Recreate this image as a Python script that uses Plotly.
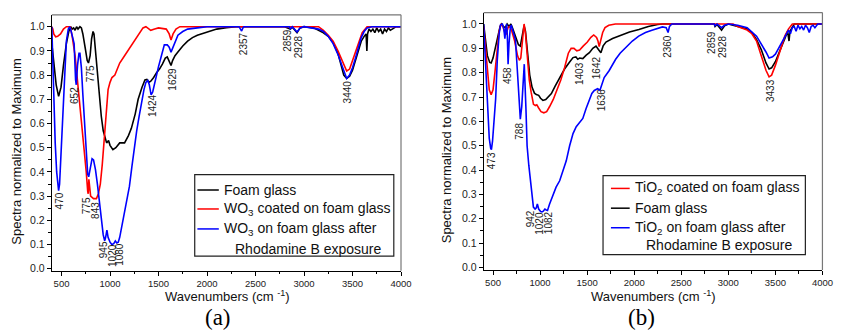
import plotly.graph_objects as go

# ---------------- Panel (a) data : WO3 ----------------
A_FOAM_WN = [400, 420, 445, 470, 495, 520, 550, 575, 595, 610, 625, 640, 655, 670, 690, 705, 720, 745, 765, 778,
             795, 810, 825, 835, 850, 870, 890, 910, 930, 950, 965, 985, 1000, 1030, 1060, 1100, 1150, 1190, 1220,
             1260, 1290, 1330, 1360, 1380, 1400, 1420, 1450, 1480, 1510, 1540, 1570, 1590, 1610, 1629, 1645, 1670,
             1700, 1750, 1800, 1850, 1900, 2000, 2100, 2200, 2300, 2800, 2859, 2880, 2928, 2960, 3000, 3100, 3200,
             3250, 3300, 3350, 3380, 3410, 3440, 3470, 3500, 3530, 3560, 3590, 3620, 3640, 3648, 3655, 3670, 3690,
             3710, 3730, 3750, 3770, 3790, 3810, 3830, 3850, 3870, 3890, 3910, 3930, 3950, 4000]
A_FOAM = [0.93, 0.86, 0.76, 0.712, 0.75, 0.84, 0.93, 0.98, 1.0, 0.99, 0.995, 0.985, 1.0, 0.99, 1.0, 0.995, 0.97,
          0.91, 0.86, 0.85, 0.88, 0.95, 0.98, 0.97, 0.9, 0.8, 0.71, 0.63, 0.57, 0.535, 0.52, 0.53, 0.51, 0.492, 0.50,
          0.52, 0.52, 0.55, 0.58, 0.64, 0.70, 0.75, 0.78, 0.782, 0.77, 0.775, 0.79, 0.81, 0.825, 0.845, 0.87, 0.875,
          0.86, 0.84, 0.86, 0.88, 0.895, 0.92, 0.94, 0.955, 0.965, 0.978, 0.99, 0.996, 1.0, 1.0, 0.99, 0.998, 0.975,
          0.995, 1.0, 0.995, 0.975, 0.96, 0.935, 0.89, 0.85, 0.80, 0.786, 0.795, 0.82, 0.86, 0.9, 0.94, 0.96, 0.97,
          0.9, 0.97, 0.99, 0.98, 0.99, 0.975, 0.995, 0.98, 0.99, 0.97, 0.99, 0.98, 0.995, 0.985, 0.99, 0.995, 1.0, 1.0]

A_WO3_WN = [400, 410, 420, 440, 460, 490, 520, 550, 590, 610, 640, 670, 700, 730, 755, 770, 775, 782, 790, 800, 830,
            860, 880, 900, 920, 940, 960, 980, 1000, 1020, 1050, 1080, 1100, 1150, 1200, 1250, 1300, 1340, 1370, 1400,
            1420, 1460, 1500, 1580, 1610, 1629, 1650, 1680, 1720, 3150, 3200, 3250, 3300, 3350, 3400, 3440, 3470,
            3500, 3550, 3600, 3650, 4000]
A_WO3 = [1.0, 0.99, 0.97, 0.958, 0.96, 0.97, 0.99, 1.0, 1.0, 0.96, 0.88, 0.76, 0.63, 0.5, 0.40, 0.32, 0.31, 0.37,
         0.33, 0.30, 0.29, 0.29, 0.31, 0.35, 0.43, 0.53, 0.64, 0.74, 0.77, 0.79, 0.80, 0.83, 0.85, 0.88, 0.91, 0.94,
         0.97, 0.995, 1.0, 0.99, 0.985, 0.99, 0.995, 0.99, 0.97, 0.945, 0.97, 0.99, 1.0, 1.0, 0.985, 0.965, 0.94, 0.9,
         0.85, 0.817, 0.825, 0.86, 0.92, 0.975, 1.0, 1.0]

A_RHB_WN = [400, 410, 420, 435, 450, 465, 470, 480, 495, 510, 530, 550, 570, 585, 600, 615, 630, 645, 652, 665, 680,
            690, 705, 720, 740, 760, 770, 780, 795, 815, 830, 850, 870, 890, 910, 930, 945, 955, 968, 980, 1000, 1020,
            1040, 1055, 1070, 1085, 1100, 1120, 1150, 1175, 1200, 1225, 1250, 1275, 1300, 1325, 1350, 1370, 1390, 1405,
            1424, 1440, 1460, 1480, 1500, 1530, 1560, 1590, 1610, 1629, 1645, 1665, 1700, 1750, 1800, 1900, 2000, 2330,
            2350, 2357, 2370, 2380, 2850, 2859, 2880, 2928, 2960, 3000, 3150, 3200, 3250, 3300, 3350, 3400, 3440, 3470,
            3500, 3530, 3560, 3590, 3620, 3650, 3700, 4000]
A_RHB = [1.0, 0.85, 0.70, 0.52, 0.40, 0.33, 0.323, 0.35, 0.48, 0.65, 0.83, 0.94, 0.99, 1.0, 0.98, 0.96, 0.93, 0.78,
         0.76, 0.84, 0.89, 0.89, 0.83, 0.72, 0.57, 0.44, 0.39, 0.38, 0.41, 0.455, 0.45, 0.41, 0.35, 0.27, 0.2, 0.14,
         0.116, 0.13, 0.16, 0.13, 0.11, 0.10, 0.105, 0.115, 0.107, 0.11, 0.13, 0.17, 0.23, 0.28, 0.34, 0.42, 0.50,
         0.57, 0.63, 0.69, 0.74, 0.77, 0.778, 0.76, 0.718, 0.73, 0.77, 0.80, 0.835, 0.88, 0.925, 0.925, 0.915, 0.895,
         0.91, 0.935, 0.965, 0.98, 0.99, 0.995, 1.0, 1.0, 0.985, 0.982, 0.995, 1.0, 1.0, 0.99, 1.0, 0.978, 0.995, 1.0,
         0.99, 0.98, 0.96, 0.93, 0.885, 0.83, 0.786, 0.80, 0.83, 0.87, 0.915, 0.955, 0.98, 0.995, 1.0, 1.0]

A_PEAK_TEXT = ["470", "652", "775", "775", "843", "945", "1020", "1080", "1424", "1629", "2357", "2859", "2928", "3440"]
A_PEAK_X = [476, 639, 794, 751, 855, 936, 1018, 1104, 1433, 1646, 2379, 2836, 2945, 3447]
A_PEAK_Y = [0.279, 0.718, 0.804, 0.262, 0.243, 0.080, 0.056, 0.058, 0.672, 0.784, 0.931, 0.942, 0.918, 0.730]

# ---------------- Panel (b) data : TiO2 ----------------
B_TIO2_WN = [400, 420, 440, 460, 480, 500, 520, 545, 565, 585, 605, 625, 640, 660, 680, 700, 730, 760, 780, 795, 815,
             830, 845, 865, 885, 905, 930, 950, 965, 985, 1010, 1040, 1070, 1100, 1140, 1180, 1220, 1260, 1300, 1330,
             1360, 1390, 1420, 1460, 1500, 1540, 1570, 1600, 1615, 1628, 1645, 1665, 1690, 1730, 1800, 3050, 3100,
             3200, 3250, 3300, 3350, 3400, 3433, 3460, 3500, 3550, 3600, 3640, 3680, 4000]
B_TIO2 = [0.99, 0.9, 0.8, 0.73, 0.71, 0.73, 0.8, 0.9, 0.97, 1.0, 0.99, 0.965, 0.96, 0.985, 0.99, 0.97, 0.93, 0.87,
          0.851, 0.86, 0.95, 1.0, 0.96, 0.86, 0.77, 0.72, 0.67, 0.665, 0.668, 0.655, 0.64, 0.635, 0.64, 0.66, 0.69,
          0.73, 0.77, 0.82, 0.88, 0.9, 0.9, 0.89, 0.893, 0.91, 0.925, 0.945, 0.955, 0.945, 0.93, 0.907, 0.93, 0.965,
          0.985, 0.995, 1.0, 1.0, 0.99, 0.975, 0.96, 0.93, 0.87, 0.81, 0.783, 0.79, 0.83, 0.89, 0.95, 0.98, 1.0, 1.0]

B_FOAM_WN = [400, 415, 440, 465, 480, 500, 525, 550, 575, 590, 610, 630, 650, 670, 690, 710, 740, 770, 790, 810, 830,
             845, 865, 890, 915, 940, 960, 985, 1005, 1030, 1060, 1090, 1120, 1160, 1210, 1260, 1310, 1350, 1380, 1400,
             1420, 1454, 1490, 1524, 1560, 1594, 1620, 1646, 1670, 1700, 1770, 1840, 1950, 2050, 2150, 2250, 2300,
             2850, 2859, 2880, 2928, 2960, 3000, 3100, 3200, 3250, 3300, 3350, 3400, 3433, 3460, 3500, 3550, 3600,
             3630, 3645, 3655, 3680, 3700, 4000]
B_FOAM = [1.0, 0.95, 0.87, 0.842, 0.84, 0.86, 0.9, 0.95, 0.99, 1.0, 0.99, 0.985, 1.0, 0.99, 1.0, 0.98, 0.95, 0.915,
          0.909, 0.95, 0.993, 0.97, 0.88, 0.79, 0.74, 0.716, 0.71, 0.707, 0.695, 0.686, 0.69, 0.70, 0.714, 0.745,
          0.781, 0.815, 0.842, 0.862, 0.865, 0.855, 0.86, 0.858, 0.872, 0.882, 0.9, 0.909, 0.895, 0.882, 0.91, 0.926,
          0.94, 0.95, 0.967, 0.977, 0.99, 0.998, 1.0, 1.0, 0.99, 0.998, 0.975, 0.993, 1.0, 0.99, 0.98, 0.965, 0.936,
          0.895, 0.84, 0.815, 0.82, 0.845, 0.89, 0.94, 0.97, 0.93, 0.97, 0.99, 1.0, 1.0]

B_RHB_WN = [400, 415, 430, 445, 460, 475, 483, 495, 510, 528, 545, 565, 580, 600, 615, 626, 635, 645, 652, 660, 670,
            685, 695, 715, 738, 760, 780, 790, 805, 820, 832, 850, 862, 880, 901, 929, 947, 960, 971, 985, 1006, 1020,
            1034, 1051, 1065, 1079, 1100, 1138, 1170, 1208, 1240, 1278, 1314, 1350, 1384, 1420, 1454, 1489, 1524, 1550,
            1576, 1611, 1636, 1650, 1681, 1733, 1803, 1850, 1908, 1980, 2048, 2120, 2188, 2250, 2300, 2340, 2360, 2375,
            2400, 2850, 2859, 2880, 2928, 2960, 3000, 3100, 3200, 3300, 3350, 3400, 3433, 3470, 3500, 3550, 3600, 3640,
            3660, 3680, 3700, 3720, 3740, 3760, 3780, 3800, 3820, 3840, 3860, 3880, 3900, 3920, 3950, 4000]
B_RHB = [1.0, 0.88, 0.75, 0.62, 0.53, 0.49, 0.484, 0.52, 0.6, 0.693, 0.85, 0.96, 0.997, 1.0, 0.98, 0.94, 0.98, 1.0,
         0.95, 0.835, 0.92, 0.99, 0.993, 0.97, 0.936, 0.8, 0.64, 0.609, 0.66, 0.78, 0.835, 0.65, 0.5, 0.42, 0.356,
         0.248, 0.24, 0.245, 0.261, 0.24, 0.23, 0.228, 0.231, 0.24, 0.236, 0.234, 0.26, 0.302, 0.33, 0.356, 0.39,
         0.438, 0.5, 0.55, 0.578, 0.595, 0.612, 0.653, 0.693, 0.715, 0.727, 0.734, 0.728, 0.745, 0.78, 0.808, 0.855,
         0.88, 0.903, 0.93, 0.95, 0.965, 0.974, 0.982, 0.988, 0.985, 0.965, 0.99, 1.0, 1.0, 0.993, 1.0, 0.985, 0.995,
         1.0, 0.995, 0.985, 0.95, 0.92, 0.885, 0.86, 0.865, 0.876, 0.91, 0.95, 0.975, 0.96, 0.985, 0.99, 0.97, 0.995,
         0.98, 0.99, 0.975, 0.995, 0.985, 0.965, 0.99, 0.995, 0.985, 1.0, 1.0]

B_PEAK_TEXT = ["473", "458", "788", "942", "1020", "1082", "1403", "1642", "1636", "2360", "2859", "2928", "3433"]
B_PEAK_X = [477, 662, 785, 896, 995, 1092, 1412, 1601, 1662, 2353, 2815, 2940, 3441]
B_PEAK_Y = [0.440, 0.787, 0.561, 0.199, 0.182, 0.185, 0.798, 0.821, 0.688, 0.908, 0.926, 0.908, 0.728]

X_TICKS = [500, 1000, 1500, 2000, 2500, 3000, 3500, 4000]
Y_TICKS = [0.0, 0.1, 0.2, 0.3, 0.4, 0.5, 0.6, 0.7, 0.8, 0.9, 1.0]

# ---------------- figure ----------------
W, H = 844, 335
FONT = "Liberation Sans, Arial, sans-serif"
RED, BLUE, BLACK = "#ff0000", "#0000ff", "#000000"
LW = 1.6


def px_x(p):
    return p / W


def px_y(p):
    return 1 - p / H


fig = go.Figure()
series = [
    (A_FOAM_WN, A_FOAM, BLACK, "x", "y"),
    (A_WO3_WN, A_WO3, RED, "x", "y"),
    (A_RHB_WN, A_RHB, BLUE, "x", "y"),
    (B_FOAM_WN, B_FOAM, BLACK, "x2", "y2"),
    (B_TIO2_WN, B_TIO2, RED, "x2", "y2"),
    (B_RHB_WN, B_RHB, BLUE, "x2", "y2"),
]
for xs, ys, col, xa, ya in series:
    fig.add_trace(go.Scatter(x=xs, y=ys, mode="lines", line=dict(color=col, width=LW),
                             xaxis=xa, yaxis=ya, showlegend=False, hoverinfo="skip"))

axis_common = dict(showgrid=False, zeroline=False, showline=True, linecolor="black", linewidth=1,
                   ticks="outside", ticklen=4, tickwidth=1, tickcolor="black", mirror=False,
                   ticklabeloverflow="allow")
x_common = dict(axis_common, range=[400, 4000], tickvals=X_TICKS,
                tickfont=dict(family=FONT, size=9.5, color="#222"),
                minor=dict(ticks="outside", ticklen=2.5, dtick=250, tick0=0, tickcolor="black"))
y_common = dict(axis_common, tickvals=Y_TICKS, tickformat=".1f",
                tickfont=dict(family=FONT, size=10.5, color="#222"),
                minor=dict(ticks="outside", ticklen=2.5, dtick=0.05, tick0=0, tickcolor="black"))

fig.update_layout(
    width=W, height=H, margin=dict(l=0, r=0, t=0, b=0),
    paper_bgcolor="white", plot_bgcolor="white",
    xaxis=dict(x_common, domain=[px_x(52.5), px_x(406.3)], anchor="y"),
    yaxis=dict(y_common, domain=[px_y(274), px_y(15)], range=[-0.008, 1.049], anchor="x"),
    xaxis2=dict(x_common, domain=[px_x(490), px_x(833.3)], anchor="y2"),
    yaxis2=dict(y_common, domain=[px_y(273.3), px_y(12.7)], range=[-0.0106, 1.047], anchor="x2"),
)

shapes = []
annots = []
# top / right frame lines (gray)
for xa, ya in (("x", "y"), ("x2", "y2")):
    shapes.append(dict(type="line", xref=f"{xa} domain", yref=f"{ya} domain", x0=0, x1=1, y0=1, y1=1,
                       line=dict(color="#777", width=1.2)))
    shapes.append(dict(type="line", xref=f"{xa} domain", yref=f"{ya} domain", x0=1, x1=1, y0=0, y1=1,
                       line=dict(color="#777", width=1.2)))

# peak labels
for texts, xs, ys, xa, ya in ((A_PEAK_TEXT, A_PEAK_X, A_PEAK_Y, "x", "y"),
                              (B_PEAK_TEXT, B_PEAK_X, B_PEAK_Y, "x2", "y2")):
    for t, x, y in zip(texts, xs, ys):
        annots.append(dict(text=t, x=x, y=y, xref=xa, yref=ya, showarrow=False, textangle=-90,
                           xanchor="center", yanchor="middle",
                           font=dict(family=FONT, size=10, color="#222")))

# axis titles
for cx, cy in ((16.7, 153), (452.3, 151.7)):
    annots.append(dict(text="Spectra normalized to Maximum", x=px_x(cx), y=px_y(cy), xref="paper", yref="paper",
                       showarrow=False, textangle=-90, xanchor="center", yanchor="middle",
                       font=dict(family=FONT, size=13, color="#111")))
for cx, cy in ((230, 300), (662, 300)):
    annots.append(dict(text="Wavenumbers (cm <sup>-1</sup>)", x=px_x(cx), y=px_y(cy), xref="paper", yref="paper",
                       showarrow=False, xanchor="center", yanchor="middle",
                       font=dict(family=FONT, size=13, color="#111")))
# panel letters
for t, cx in (("(a)", 221), ("(b)", 650)):
    annots.append(dict(text=t, x=px_x(cx), y=px_y(321), xref="paper", yref="paper", showarrow=False,
                       xanchor="center", yanchor="middle",
                       font=dict(family="Liberation Serif, Times New Roman, serif", size=23, color="black")))

# legends (drawn manually)
LEG_A = [("Foam glass", BLACK, 192.3), ("WO<sub>3</sub> coated on foam glass", RED, 211.5),
         ("WO<sub>3</sub> on foam glass after", BLUE, 231.7)]
LEG_B = [("TiO<sub>2</sub> coated on foam glass", RED, 190.7), ("Foam glass", BLACK, 210.7),
         ("TiO<sub>2</sub> on foam glass after", BLUE, 230.5)]
for box, items, sw0, sw1, tx, extra in (
        ((197.3, 176.7, 399, 259.3), LEG_A, 200, 221.7, 224.5, (236.5, 251.7)),
        ((611, 177.7, 816, 257.7), LEG_B, 619, 638, 641.5, (653, 248.3))):
    x0, y0, x1, y1 = box
    shapes.append(dict(type="rect", xref="paper", yref="paper", x0=px_x(x0), x1=px_x(x1), y0=px_y(y1), y1=px_y(y0),
                       line=dict(color="#222", width=1.2), fillcolor="white", layer="above"))
    for t, col, yy in items:
        shapes.append(dict(type="line", xref="paper", yref="paper", x0=px_x(sw0), x1=px_x(sw1),
                           y0=px_y(yy), y1=px_y(yy), line=dict(color=col, width=1.5), layer="above"))
        annots.append(dict(text=t, x=px_x(tx), y=px_y(yy), xref="paper", yref="paper", showarrow=False,
                           xanchor="left", yanchor="middle", font=dict(family=FONT, size=14, color="#111")))
    annots.append(dict(text="Rhodamine B exposure", x=px_x(extra[0]), y=px_y(extra[1]), xref="paper",
                       yref="paper", showarrow=False, xanchor="left", yanchor="middle",
                       font=dict(family=FONT, size=14, color="#111")))

fig.update_layout(shapes=shapes, annotations=annots)
fig.write_html("out.html", config={"displayModeBar": False},
               post_script="document.body.style.margin='0';document.body.style.overflow='hidden';")
